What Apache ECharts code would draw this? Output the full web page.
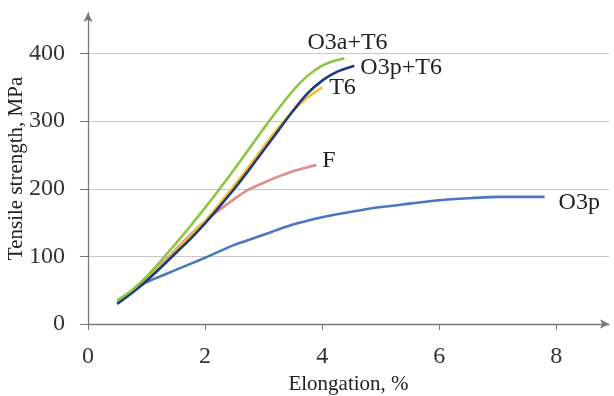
<!DOCTYPE html>
<html>
<head>
<meta charset="utf-8">
<script src="https://cdn.jsdelivr.net/npm/echarts@6/dist/echarts.min.js"></script>
<style>html,body{margin:0;padding:0;background:#fff}#c{width:614px;height:396px}</style>
</head>
<body>
<div id="c"></div>
<script>
var yTicks = [0, 100, 200, 300, 400];
var xTicks = [0, 2, 4, 6, 8];

var o3pX = [0.5, 0.75, 1.0, 1.25, 1.5, 2.0, 2.5, 3.0, 3.5, 4.0, 4.5, 5.0, 5.5, 6.0, 6.5, 7.0, 7.5, 7.8];
var o3pY = [30, 47, 62, 71, 80, 98, 117, 132, 147, 158, 166, 173, 178, 183, 186, 188, 188, 188];

var fX = [0.5, 0.75, 1.0, 1.25, 1.5, 1.75, 2.0, 2.25, 2.5, 2.75, 3.0, 3.25, 3.5, 3.75, 3.9];
var fY = [32, 48, 66, 88, 110, 132, 152, 169, 185, 199, 209, 218, 226, 232, 235];

var t6X = [0.5, 0.75, 1.0, 1.25, 1.5, 1.75, 2.0, 2.25, 2.5, 2.75, 3.0, 3.25, 3.5, 3.75, 4.0];
var t6Y = [32, 48, 66, 86, 108, 130, 152, 178, 205, 233, 262, 290, 315, 335, 350];

var o3pT6X = [0.5, 0.75, 1.0, 1.25, 1.5, 1.75, 2.0, 2.25, 2.5, 2.75, 3.0, 3.25, 3.5, 3.75, 4.0, 4.25, 4.55];
var o3pT6Y = [30, 46, 64, 84, 105, 126, 149, 174, 200, 228, 257, 286, 315, 341, 360, 373, 382];

var o3aT6X = [0.5, 0.75, 1.0, 1.25, 1.5, 1.75, 2.0, 2.25, 2.5, 2.75, 3.0, 3.25, 3.5, 3.75, 4.0, 4.2, 4.38];
var o3aT6Y = [35, 50, 70, 94, 119, 145, 172, 200, 229, 259, 289, 318, 345, 367, 382, 389, 393];

function pairs(xs, ys) { return xs.map(function (x, i) { return [x, ys[i]]; }); }

var FONT = '"Liberation Serif", "Times New Roman", serif';

function mk(name, xs, ys, color, off) {
  return {
    name: name, type: 'line', data: pairs(xs, ys), showSymbol: false, smooth: 0.2,
    lineStyle: { color: color, width: 2.6 }, itemStyle: { color: color },
    endLabel: { show: true, formatter: '{a}', fontFamily: FONT, fontSize: 24, color: '#222', offset: off },
    animation: false, silent: true
  };
}

var chart = echarts.init(document.getElementById('c'));
chart.setOption({
  animation: false,
  grid: { left: 88, right: 5, top: 13, bottom: 72, containLabel: false, outerBoundsMode: 'none' },
  xAxis: {
    type: 'value', min: 0, max: 8.9,
    name: 'Elongation, %', nameLocation: 'middle', nameGap: 50, nameMoveOverlap: false,
    nameTextStyle: { fontFamily: FONT, fontSize: 21, color: '#222' },
    axisLine: { show: true, onZero: false, symbol: ['none', 'arrow'], symbolSize: [7, 9], lineStyle: { color: '#777', width: 1.3 } },
    axisTick: { show: true, length: 6, customValues: xTicks, lineStyle: { color: '#777' } },
    axisLabel: { customValues: xTicks, fontFamily: FONT, fontSize: 24, color: '#333', margin: 21 },
    splitLine: { show: false }
  },
  yAxis: {
    type: 'value', min: 0, max: 460,
    name: 'Tensile strength, MPa', nameLocation: 'middle', nameGap: 61, nameMoveOverlap: false,
    nameTextStyle: { fontFamily: FONT, fontSize: 21, color: '#222' },
    axisLine: { show: true, symbol: ['none', 'arrow'], symbolSize: [7, 9], lineStyle: { color: '#777', width: 1.3 } },
    axisTick: { show: true, length: 8, customValues: yTicks, lineStyle: { color: '#777' } },
    axisLabel: { customValues: yTicks, fontFamily: FONT, fontSize: 24, color: '#333', margin: 23 },
    splitLine: { show: true, lineStyle: { color: '#c8c8c8', width: 1.2 } }
  },
  series: [
    mk('O3p', o3pX, o3pY, '#4a78bd', [6, 6]),
    mk('F', fX, fY, '#de8c8c', [-2, -4]),
    mk('T6', t6X, t6Y, '#f4c02e', [-1, 0]),
    mk('O3p+T6', o3pT6X, o3pT6Y, '#1f3b7c', [-2, 2]),
    mk('O3a+T6', o3aT6X, o3aT6Y, '#8cc540', [-45, -16])
  ]
});
</script>
</body>
</html>
